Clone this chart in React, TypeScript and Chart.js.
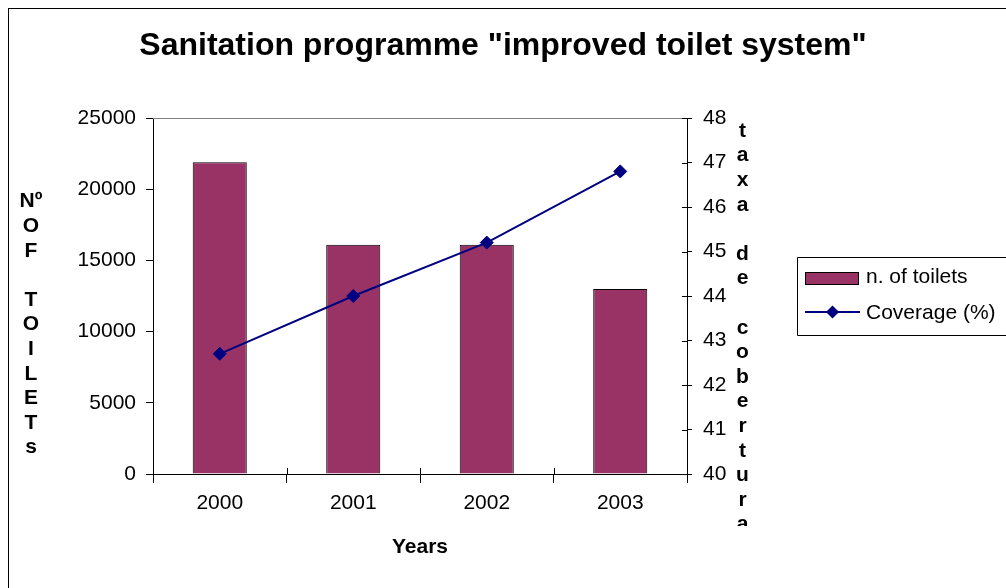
import { useEffect, useRef } from 'react';
import { Chart, registerables } from 'chart.js';

Chart.register(...registerables);

const categories = ['2000', '2001', '2002', '2003'];
const toilets = [21900, 16100, 16100, 13000];
const coverage = [42.7, 44.0, 45.2, 46.8];
const leftMin = 0;
const leftMax = 25000;
const leftStep = 5000;
const rightMin = 40;
const rightMax = 48;
const rightStep = 1;

const chartTitle = 'Sanitation programme "improved toilet system"';
const xTitle = 'Years';
const leftTitle = ['Nº', 'O', 'F', '', 'T', 'O', 'I', 'L', 'E', 'T', 's'];
const rightTitle = ['t', 'a', 'x', 'a', '', 'd', 'e', '', 'c', 'o', 'b', 'e', 'r', 't', 'u', 'r', 'a'];
const barLabel = 'n. of toilets';
const lineLabel = 'Coverage (%)';

const BAR_COLOR = '#993366';
const LINE_COLOR = '#000080';
const FONT = "'Liberation Sans', Arial, sans-serif";

const decorPlugin = {
  id: 'decor',
  afterDraw(chart: any) {
    const { ctx, chartArea: a, scales } = chart;
    ctx.save();
    const seg = (x1: number, y1: number, x2: number, y2: number) => {
      ctx.beginPath();
      ctx.moveTo(x1, y1);
      ctx.lineTo(x2, y2);
      ctx.stroke();
    };
    // plot area top border
    ctx.lineWidth = 1;
    ctx.strokeStyle = '#808080';
    seg(a.left, Math.round(a.top) + 0.5, a.right, Math.round(a.top) + 0.5);

    // inner tick extensions
    ctx.strokeStyle = '#000';
    const y1 = scales.y1;
    y1.ticks.forEach((t: any) => {
      const py = Math.round(y1.getPixelForValue(t.value)) + 0.5;
      seg(a.right - 5, py, a.right, py);
    });
    const n = categories.length;
    for (let i = 1; i < n; i++) {
      const px = Math.round(a.left + ((a.right - a.left) * i) / n) + 0.5;
      seg(px, a.bottom - 6, px, a.bottom);
    }

    // stacked axis titles
    ctx.fillStyle = '#000';
    ctx.font = `bold 21px ${FONT}`;
    ctx.textAlign = 'center';
    ctx.textBaseline = 'middle';
    const lh = 24.6;
    leftTitle.forEach((s, i) => {
      if (s) ctx.fillText(s, 22, 192.7 + i * lh);
    });
    ctx.save();
    ctx.beginPath();
    ctx.rect(700, 100, 80, 417);
    ctx.clip();
    rightTitle.forEach((s, i) => {
      if (s) ctx.fillText(s, 733.5, 122 + i * lh);
    });
    ctx.restore();

    // legend
    const ds0 = chart.data.datasets[0];
    const ds1 = chart.data.datasets[1];
    ctx.strokeStyle = '#000';
    ctx.lineWidth = 1;
    ctx.beginPath();
    ctx.moveTo(chart.width + 5, 248.5);
    ctx.lineTo(788.5, 248.5);
    ctx.lineTo(788.5, 326.5);
    ctx.lineTo(chart.width + 5, 326.5);
    ctx.stroke();
    ctx.fillStyle = ds0.backgroundColor;
    ctx.fillRect(796, 263, 54, 13);
    ctx.strokeRect(796.5, 263.5, 53, 12);
    ctx.strokeStyle = ds1.borderColor;
    ctx.lineWidth = 2;
    seg(796, 303, 851, 303);
    ctx.fillStyle = ds1.borderColor;
    ctx.beginPath();
    ctx.moveTo(823.5 - 6.5, 303);
    ctx.lineTo(823.5, 303 - 6.5);
    ctx.lineTo(823.5 + 6.5, 303);
    ctx.lineTo(823.5, 303 + 6.5);
    ctx.closePath();
    ctx.fill();
    ctx.fillStyle = '#000';
    ctx.font = `21px ${FONT}`;
    ctx.textAlign = 'left';
    ctx.fillText(ds0.label, 857, 268);
    ctx.fillText(ds1.label, 857, 304);
    ctx.restore();
  },
};

export default function App() {
  const ref = useRef<HTMLCanvasElement | null>(null);

  useEffect(() => {
    if (!ref.current) return;
    const tickFont = { family: FONT, size: 21 };
    const plain = (v: any) => String(v);
    const chart = new Chart(ref.current, {
      type: 'bar',
      data: {
        labels: categories,
        datasets: [
          {
            type: 'bar',
            label: barLabel,
            data: toilets,
            yAxisID: 'y',
            backgroundColor: BAR_COLOR,
            borderColor: '#000',
            borderWidth: 1,
            borderSkipped: 'start',
            categoryPercentage: 1,
            barPercentage: 0.405,
            order: 1,
          } as any,
          {
            type: 'line',
            label: lineLabel,
            data: coverage,
            yAxisID: 'y1',
            borderColor: LINE_COLOR,
            backgroundColor: LINE_COLOR,
            borderWidth: 2,
            pointStyle: 'rectRot',
            pointRadius: 6.5,
            pointBackgroundColor: LINE_COLOR,
            pointBorderColor: LINE_COLOR,
            pointBorderWidth: 1,
            tension: 0,
            fill: false,
            order: 0,
          } as any,
        ],
      },
      options: {
        responsive: false,
        animation: false,
        devicePixelRatio: 1,
        layout: { padding: { left: 0, right: 9, top: 0, bottom: 0 } },
        plugins: {
          legend: { display: false },
          tooltip: { enabled: false },
          title: {
            display: true,
            text: chartTitle,
            color: '#000',
            font: { family: FONT, size: 32, weight: 'bold' },
            padding: { top: 18, bottom: 52.6 },
          },
        },
        scales: {
          x: {
            offset: true,
            grid: {
              offset: true,
              drawOnChartArea: false,
              tickLength: 9,
              color: '#000',
            },
            border: { color: '#000', width: 1 },
            ticks: { color: '#000', font: tickFont, padding: 8 },
            title: {
              display: true,
              text: xTitle,
              color: '#000',
              font: { family: FONT, size: 21, weight: 'bold' },
              padding: { top: 0, bottom: 28.4 },
            },
            afterFit: (s: any) => {
              s.height = 114;
            },
          },
          y: {
            position: 'left',
            min: leftMin,
            max: leftMax,
            grid: { drawOnChartArea: false, tickLength: 7, color: '#000' },
            border: { color: '#000', width: 1 },
            ticks: { stepSize: leftStep, color: '#000', font: tickFont, padding: 10, callback: plain },
            afterFit: (s: any) => {
              s.width = 144;
            },
          },
          y1: {
            position: 'right',
            min: rightMin,
            max: rightMax,
            grid: { drawOnChartArea: false, tickLength: 5, color: '#000' },
            border: { color: '#000', width: 1 },
            ticks: { stepSize: rightStep, color: '#000', font: tickFont, padding: 11, callback: plain },
            afterFit: (s: any) => {
              s.width = 310;
            },
          },
        },
      } as any,
      plugins: [decorPlugin],
    });
    return () => chart.destroy();
  }, []);

  return (
    <div
      style={{
        position: 'fixed',
        left: 8,
        top: 8,
        width: 997,
        height: 579,
        borderLeft: '1px solid #000',
        borderTop: '1px solid #000',
        background: '#fff',
      }}
    >
      <canvas ref={ref} width={997} height={579} style={{ display: 'block', width: 997, height: 579 }} />
    </div>
  );
}
